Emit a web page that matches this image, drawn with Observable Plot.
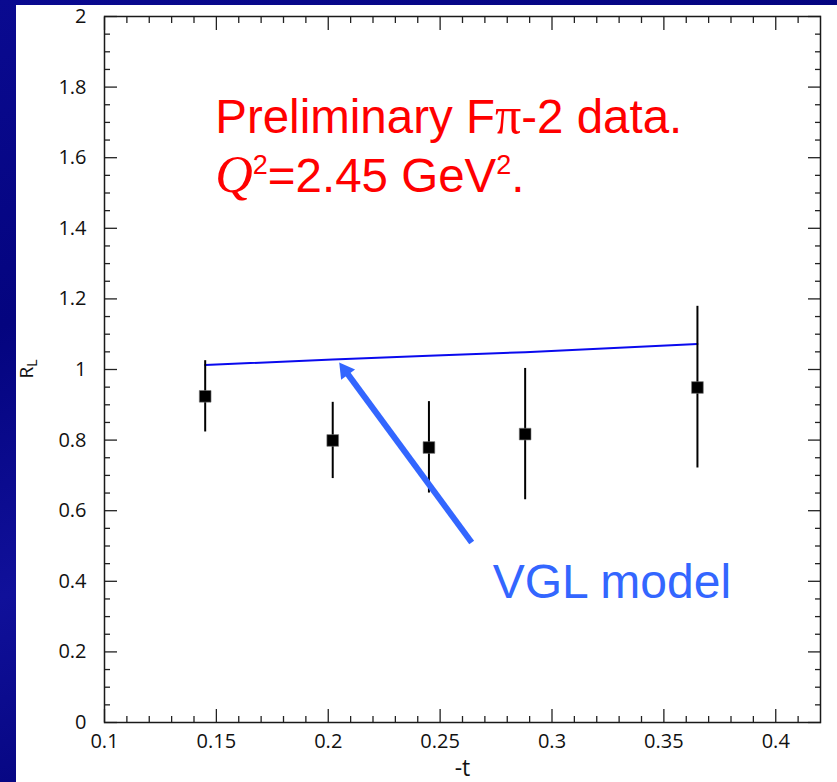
<!DOCTYPE html>
<html>
<head>
<meta charset="utf-8">
<script src="https://cdn.jsdelivr.net/npm/d3@7"></script>
<script src="https://cdn.jsdelivr.net/npm/@observablehq/plot@0.6"></script>
<style>
html, body { margin: 0; padding: 0; }
body {
  width: 837px; height: 782px; overflow: hidden; position: relative;
  background: linear-gradient(160deg, #0a0a90 0%, #04047f 30%, #10109a 55%, #03037a 80%, #08088a 100%);
}
#wrap { position: absolute; left: 16px; top: 5px; width: 821px; height: 777px; background: #ffffff; }
</style>
</head>
<body>
<div id="wrap"></div>
<script>
// ---- data ----
const tValues   = [0.145, 0.202, 0.245, 0.288, 0.365];
const rlValues  = [0.924, 0.799, 0.779, 0.817, 0.949];
const rlLow     = [0.823, 0.691, 0.650, 0.631, 0.721];
const rlHigh    = [1.025, 0.907, 0.909, 1.003, 1.179];
const modelT    = [0.145, 0.202, 0.245, 0.288, 0.365];
const modelRL   = [1.013, 1.028, 1.039, 1.049, 1.072];

const xMajorTicks = [0.1, 0.15, 0.2, 0.25, 0.3, 0.35, 0.4];
const xTickLabels = ["0.1", "0.15", "0.2", "0.25", "0.3", "0.35", "0.4"];
const yMajorTicks = [0, 0.2, 0.4, 0.6, 0.8, 1, 1.2, 1.4, 1.6, 1.8, 2];
const yTickLabels = ["0", "0.2", "0.4", "0.6", "0.8", "1", "1.2", "1.4", "1.6", "1.8", "2"];
const xMinorTicks = [0.11,0.12,0.13,0.14,0.16,0.17,0.18,0.19,0.21,0.22,0.23,0.24,0.26,0.27,0.28,0.29,0.31,0.32,0.33,0.34,0.36,0.37,0.38,0.39,0.41];
const yMinorTicks = [0.05,0.1,0.15,0.25,0.3,0.35,0.45,0.5,0.55,0.65,0.7,0.75,0.85,0.9,0.95,1.05,1.1,1.15,1.25,1.3,1.35,1.45,1.5,1.55,1.65,1.7,1.75,1.85,1.9,1.95];

const xDomain = [0.1, 0.42];
const yDomain = [0, 2];
const xLabel = "-t";
const yLabelMain = "R";
const yLabelSub = "L";

// annotation anchors (data coordinates)
const noteLine1 = "Preliminary F";
const notePi = "π";
const noteLine1b = "-2 data.";
const noteAnchor = {t: 0.1497, line1: 1.668, line2: 1.502};
const modelLabel = "VGL model";
const modelLabelAnchor = {t: 0.2735, rl: 0.352};
const arrowTail = {t: 0.2641, rl: 0.510};
const arrowTip  = {t: 0.2049, rl: 1.020};

// ---- layout ----
const W = 821, H = 777;
const mL = 88, mR = 17, mT = 11, mB = 60;

const points = tValues.map((t, i) => ({t, rl: rlValues[i], lo: rlLow[i], hi: rlHigh[i]}));
const model = modelT.map((t, i) => ({t, rl: modelRL[i]}));

// arrow head geometry (filled triangle)
const sx = d3.scaleLinear(xDomain, [mL, W - mR]);
const sy = d3.scaleLinear(yDomain, [H - mB, mT]);
const tailPx = [sx(arrowTail.t), sy(arrowTail.rl)];
const tipPx = [sx(arrowTip.t), sy(arrowTip.rl)];
const len = Math.hypot(tipPx[0] - tailPx[0], tipPx[1] - tailPx[1]);
const ux = (tipPx[0] - tailPx[0]) / len, uy = (tipPx[1] - tailPx[1]) / len;
const headS = 10;
const headAngle = Math.atan2(ux, -uy) * 180 / Math.PI;
const shaftEnd = {t: sx.invert(tipPx[0] - ux * headS * 1.2), rl: sy.invert(tipPx[1] - uy * headS * 1.2)};
const headR = Math.sqrt(Math.pow(headS / 0.6824, 2) / Math.PI);

const fmtX = d => xTickLabels[xMajorTicks.indexOf(d)];
const fmtY = d => yTickLabels[yMajorTicks.indexOf(d)];
const tickColor = "#222";
const labelFont = "'Open Sans', sans-serif";

const tickAxes = [];
for (const [ticks, size] of [[xMinorTicks, -6], [xMajorTicks, -13]]) {
  for (const anchor of ["bottom", "top"]) {
    tickAxes.push(Plot.axisX({anchor, ticks, tickSize: size, tickFormat: () => "", label: null, stroke: tickColor, strokeWidth: 1.3}));
  }
}
for (const [ticks, size] of [[yMinorTicks, -6], [yMajorTicks, -13]]) {
  for (const anchor of ["left", "right"]) {
    tickAxes.push(Plot.axisY({anchor, ticks, tickSize: size, tickFormat: () => "", label: null, stroke: tickColor, strokeWidth: 1.3}));
  }
}

const plot = Plot.plot({
  width: W, height: H,
  marginLeft: mL, marginRight: mR, marginTop: mT, marginBottom: mB,
  style: {background: "#ffffff", fontFamily: labelFont, fontSize: "20px", color: "#1a1a1a", overflow: "visible"},
  x: {domain: xDomain},
  y: {domain: yDomain},
  marks: [
    ...tickAxes,
    Plot.axisX({anchor: "bottom", ticks: xMajorTicks, tickSize: 0, tickPadding: 11, tickFormat: fmtX, label: null, fill: "#111", fontSize: 20, fontFamily: labelFont}),
    Plot.axisY({anchor: "left", ticks: yMajorTicks, tickSize: 0, tickPadding: 18, tickFormat: fmtY, label: null, fill: "#111", fontSize: 20, fontFamily: labelFont}),
    Plot.frame({stroke: "#1a1a1a", strokeWidth: 1.5}),
    Plot.text([xLabel], {frameAnchor: "bottom", dy: 46, text: d => d, fontSize: 23, fontFamily: labelFont, fill: "#111", lineAnchor: "middle"}),
    Plot.line(model, {x: "t", y: "rl", stroke: "#0a0aee", strokeWidth: 2}),
    Plot.ruleX(points, {x: "t", y1: "lo", y2: "hi", stroke: "#000", strokeWidth: 2}),
    Plot.dot(points, {x: "t", y: "rl", symbol: "square", r: 6.6, fill: "#000", stroke: "#777", strokeWidth: 0.6}),
    Plot.link([{x1: arrowTail.t, y1: arrowTail.rl, x2: shaftEnd.t, y2: shaftEnd.rl}], {x1: "x1", y1: "y1", x2: "x2", y2: "y2", stroke: "#3366ff", strokeWidth: 6}),
    Plot.dot([arrowTip], {x: "t", y: "rl", symbol: "triangle2", r: headR, rotate: headAngle, fill: "#3366ff", dx: -ux * headS, dy: -uy * headS}),
    Plot.text([modelLabel], {x: () => modelLabelAnchor.t, y: () => modelLabelAnchor.rl, text: d => d, textAnchor: "start", lineAnchor: "bottom", fill: "#3366ff", fontSize: 48, fontFamily: "'Liberation Sans', Arial, sans-serif"})
  ]
});

document.getElementById("wrap").appendChild(plot);

// rich-text annotations (tspans) placed through the plot's own scales
const xs = plot.scale("x"), ys = plot.scale("y");
const svg = d3.select(plot);
const g = svg.append("g")
  .attr("fill", "#ff0000")
  .attr("text-anchor", "start")
  .attr("font-family", "'Liberation Sans', Arial, sans-serif")
  .attr("font-size", 47.5);
const t1 = g.append("text").attr("x", xs.apply(noteAnchor.t)).attr("y", ys.apply(noteAnchor.line1));
t1.append("tspan").text(noteLine1);
t1.append("tspan").attr("font-family", "'Liberation Serif', serif").attr("font-size", 52).text(notePi);
t1.append("tspan").text(noteLine1b);
const t2 = g.append("text").attr("x", xs.apply(noteAnchor.t)).attr("y", ys.apply(noteAnchor.line2));
t2.append("tspan").attr("font-family", "'Liberation Serif', serif").attr("font-style", "italic").attr("font-size", 52).text("Q");
t2.append("tspan").attr("font-size", 27).attr("dy", -18).text("2");
t2.append("tspan").attr("dy", 18).text("=2.45 GeV");
t2.append("tspan").attr("font-size", 27).attr("dy", -18).text("2");
t2.append("tspan").attr("dy", 18).text(".");

// y axis title with subscript
const midY = (mT + (H - mB)) / 2;
const yl = svg.append("text")
  .attr("transform", `translate(17,${midY}) rotate(-90)`)
  .attr("text-anchor", "middle")
  .attr("fill", "#111")
  .attr("font-family", labelFont)
  .attr("font-size", 19);
yl.append("tspan").text(yLabelMain);
yl.append("tspan").attr("font-size", 14).attr("dy", 4).text(yLabelSub);
</script>
</body>
</html>
